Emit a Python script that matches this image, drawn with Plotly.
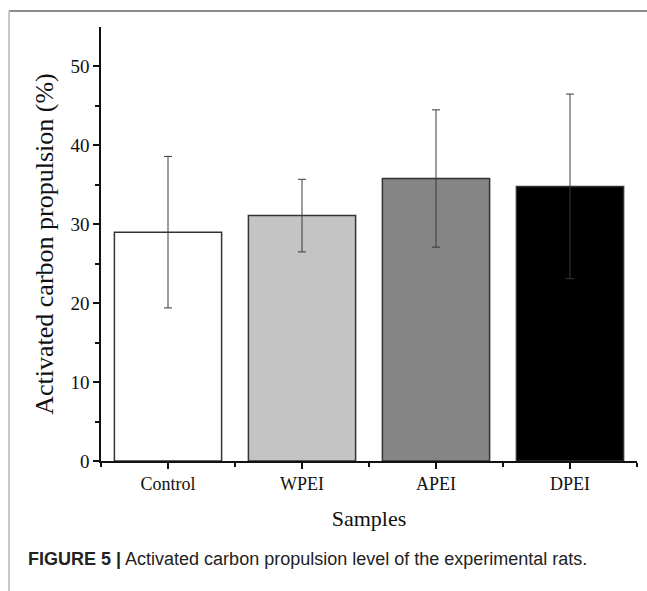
import plotly.graph_objects as go

categories = ["Control", "WPEI", "APEI", "DPEI"]
values = [29.0, 31.1, 35.8, 34.8]
errors = [9.6, 4.6, 8.7, 11.7]
bar_colors = ["#ffffff", "#c4c4c4", "#858585", "#000000"]
y_ticks = [0, 10, 20, 30, 40, 50]

W, H = 647, 591
L, R, T, B = 101, 10, 27, 130
pw, ph = W - L - R, H - T - B

def px(x):
    return (x - L) / pw

def py(y):
    return (H - B - y) / ph

fig = go.Figure()
fig.add_trace(go.Bar(
    x=list(range(len(categories))), y=values,
    width=0.8,
    marker=dict(color=bar_colors, line=dict(color="#333333", width=1.5)),
    error_y=dict(type="data", array=errors, visible=True,
                 color="#3a3a3a", thickness=1, width=4),
    showlegend=False,
))

serif = "Liberation Serif, Times New Roman, serif"
fig.update_layout(
    width=W, height=H,
    margin=dict(l=L, r=R, t=T, b=B),
    paper_bgcolor="white", plot_bgcolor="white",
    font=dict(family=serif, color="#111111"),
    xaxis=dict(
        range=[-0.5, 3.5], tickmode="array",
        tickvals=list(range(len(categories))), ticktext=categories,
        showline=True, linecolor="#111111", linewidth=1.5,
        ticks="outside", ticklen=6, tickwidth=1.5, tickcolor="#111111",
        tickfont=dict(size=18, family=serif, color="#111111"),
        showgrid=False, zeroline=False,
        minor=dict(tickmode="array", tickvals=[-0.5, 0.5, 1.5, 2.5, 3.5],
                   ticks="outside", ticklen=4, tickwidth=1.5, tickcolor="#111111"),
        title=dict(text="Samples", font=dict(size=22, family=serif, color="#111111"), standoff=17),
    ),
    yaxis=dict(
        range=[0, 55], tickmode="array", tickvals=y_ticks,
        showline=True, linecolor="#111111", linewidth=1.5,
        ticks="outside", ticklen=6, tickwidth=1.5, tickcolor="#111111",
        tickfont=dict(size=19, family=serif, color="#111111"),
        showgrid=False, zeroline=False,
        minor=dict(tickmode="array", tickvals=[5, 15, 25, 35, 45],
                   ticks="outside", ticklen=4, tickwidth=1.5, tickcolor="#111111"),
        title=dict(text="Activated carbon propulsion (%)",
                   font=dict(size=26, family=serif, color="#111111"), standoff=9),
    ),
)

# figure frame
fig.add_shape(type="line", xref="paper", yref="paper",
              x0=px(9), x1=px(647), y0=py(11), y1=py(11),
              line=dict(color="#666666", width=1.5))
fig.add_shape(type="line", xref="paper", yref="paper",
              x0=px(9), x1=px(9), y0=py(11), y1=py(591),
              line=dict(color="#c8c8c8", width=2))

fig.add_annotation(
    xref="paper", yref="paper", x=px(26), y=py(559),
    xanchor="left", yanchor="middle", showarrow=False,
    text="<b>FIGURE 5 |</b> Activated carbon propulsion level of the experimental rats.",
    font=dict(family="Liberation Sans, Arial, sans-serif", size=18, color="#222222"),
)

fig.write_html("out.html")
